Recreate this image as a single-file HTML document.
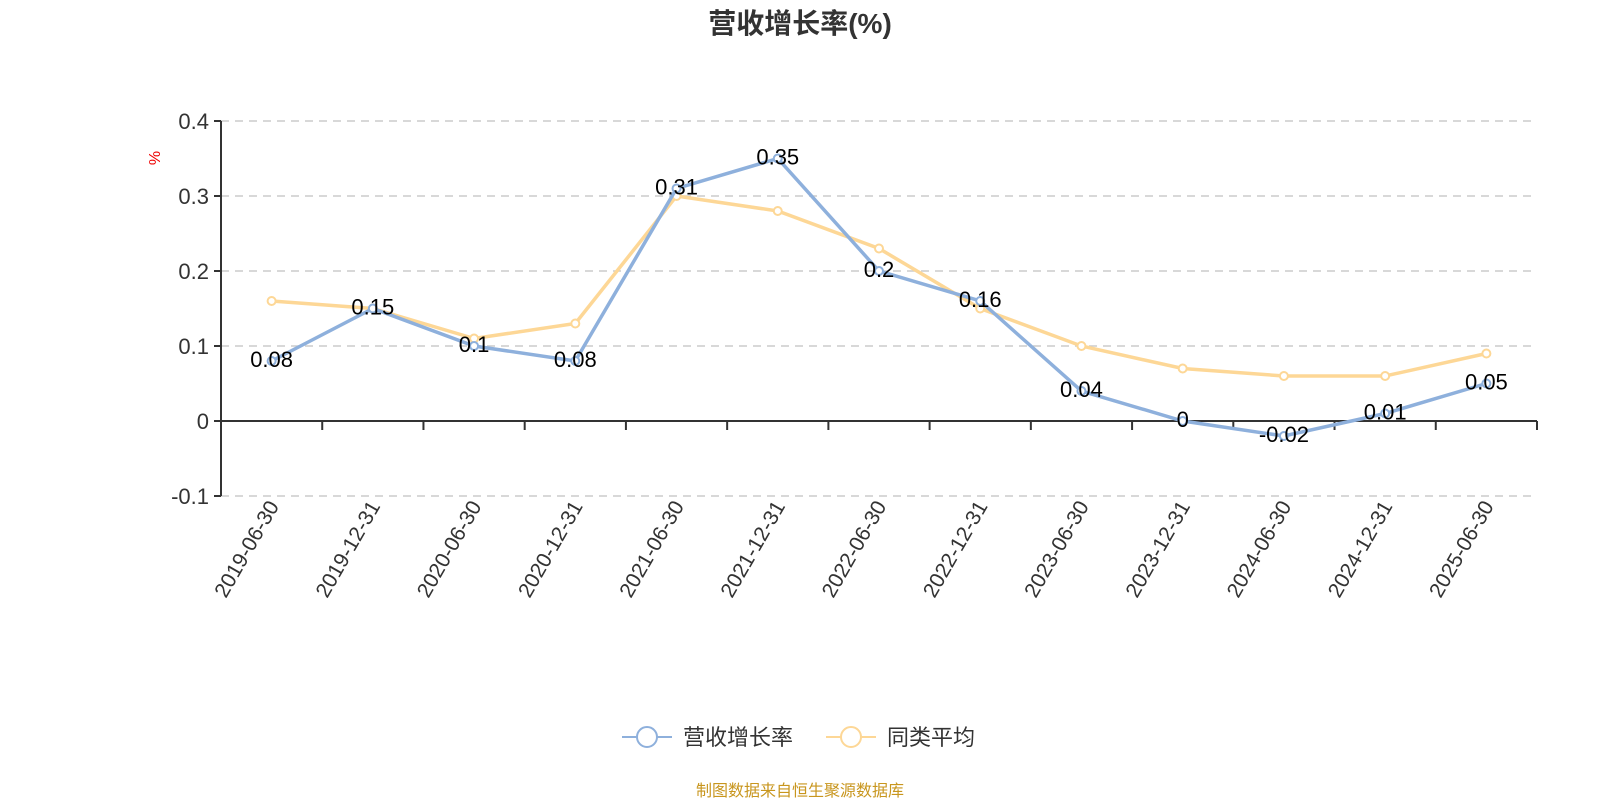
<!DOCTYPE html>
<html><head><meta charset="utf-8"><style>
body{margin:0;background:#fff;}
svg{display:block;font-family:"Liberation Sans","Noto Sans CJK SC",sans-serif;}
</style></head><body>
<svg id="c" width="1600" height="800">
<text x="800" y="33" text-anchor="middle" font-size="28" font-weight="bold" fill="#333">营收增长率(%)</text>
<text x="164" y="162" font-size="16" fill="#e00" transform="rotate(-90 160 162)" text-anchor="middle">%</text>
<g id="grid"></g><g id="axes"></g><g id="series"></g>
<g>
<g><line x1="622" y1="737" x2="672" y2="737" stroke="#8eb0dc" stroke-width="2"/><circle cx="647" cy="737" r="10" fill="#fff" stroke="#8eb0dc" stroke-width="2"/><text x="683" y="745" font-size="22" fill="#333">营收增长率</text></g>
<g><line x1="826" y1="737" x2="876" y2="737" stroke="#fdd796" stroke-width="2"/><circle cx="851" cy="737" r="10" fill="#fff" stroke="#fdd796" stroke-width="2"/><text x="887" y="745" font-size="22" fill="#333">同类平均</text></g>
</g>
<text x="800" y="796" text-anchor="middle" font-size="16" fill="#c8961e">制图数据来自恒生聚源数据库</text>
</svg>
<script>
const categories=["2019-06-30","2019-12-31","2020-06-30","2020-12-31","2021-06-30","2021-12-31","2022-06-30","2022-12-31","2023-06-30","2023-12-31","2024-06-30","2024-12-31","2025-06-30"];
const revenueGrowth=[0.08,0.15,0.1,0.08,0.31,0.35,0.2,0.16,0.04,0,-0.02,0.01,0.05];
const peerAverage=[0.16,0.15,0.11,0.13,0.30,0.28,0.23,0.15,0.10,0.07,0.06,0.06,0.09];
const yTicks=[0.4,0.3,0.2,0.1,0,-0.1];
const tickLabels=["0.4","0.3","0.2","0.1","0","-0.1"];
const NS="http://www.w3.org/2000/svg";
const X0=221,X1=1537,band=(X1-X0)/categories.length;
const yScale=v=>421-v*750;
const xScale=i=>X0+band*(i+0.5);
function mk(tag,attrs,parent,text){const e=document.createElementNS(NS,tag);for(const k in attrs)e.setAttribute(k,attrs[k]);if(text!==undefined)e.textContent=text;parent.appendChild(e);return e;}
const grid=document.getElementById('grid'),axes=document.getElementById('axes'),series=document.getElementById('series');
yTicks.forEach((t,i)=>{
  const y=yScale(t);
  if(t!==0){const g=mk('line',{x1:X0,x2:X1,y1:y,y2:y,stroke:'#ccc','stroke-dasharray':'8,6','stroke-width':1.5},grid);
  
  }
  mk('line',{x1:X0-7,x2:X0,y1:y,y2:y,stroke:'#333','stroke-width':2},axes);
  const l=mk('text',{x:X0-12,y:y+8,'text-anchor':'end','font-size':22,fill:'#333'},axes,tickLabels[i]);
  
  
});
const ya=mk('line',{x1:X0,x2:X0,y1:yScale(0.4),y2:yScale(-0.1),stroke:'#333','stroke-width':2},axes);


const xa=mk('line',{x1:X0,x2:X1,y1:yScale(0),y2:yScale(0),stroke:'#333','stroke-width':2},axes);


for(let i=0;i<=categories.length;i++){const x=X0+band*i;mk('line',{x1:x,x2:x,y1:yScale(0),y2:yScale(0)+9,stroke:'#333','stroke-width':2},axes);}
categories.forEach((c,i)=>{
  const x=xScale(i)+8,y=506;
  const t=mk('text',{x:x,y:y,'text-anchor':'end','font-size':21,fill:'#333',transform:`rotate(-60 ${x} ${y})`},axes,c);
  
  
});
function draw(vals,color,name,labels){
  const p=mk('polyline',{points:vals.map((v,i)=>xScale(i)+','+yScale(v)).join(' '),fill:'none',stroke:color,'stroke-width':3.5},series);
  
  
  vals.forEach((v,i)=>{
    const c=mk('circle',{cx:xScale(i),cy:yScale(v),r:4,fill:'#fff',stroke:color,'stroke-width':2},series);
    
    
  });
}
draw(peerAverage,'#fdd796','peer-average');
draw(revenueGrowth,'#8eb0dc','revenue-growth');
revenueGrowth.forEach((v,i)=>{
  const t=mk('text',{x:xScale(i),y:yScale(v)+6,'text-anchor':'middle','font-size':22,fill:'#000'},series,String(v));
  
  
});
</script>
</body></html>
